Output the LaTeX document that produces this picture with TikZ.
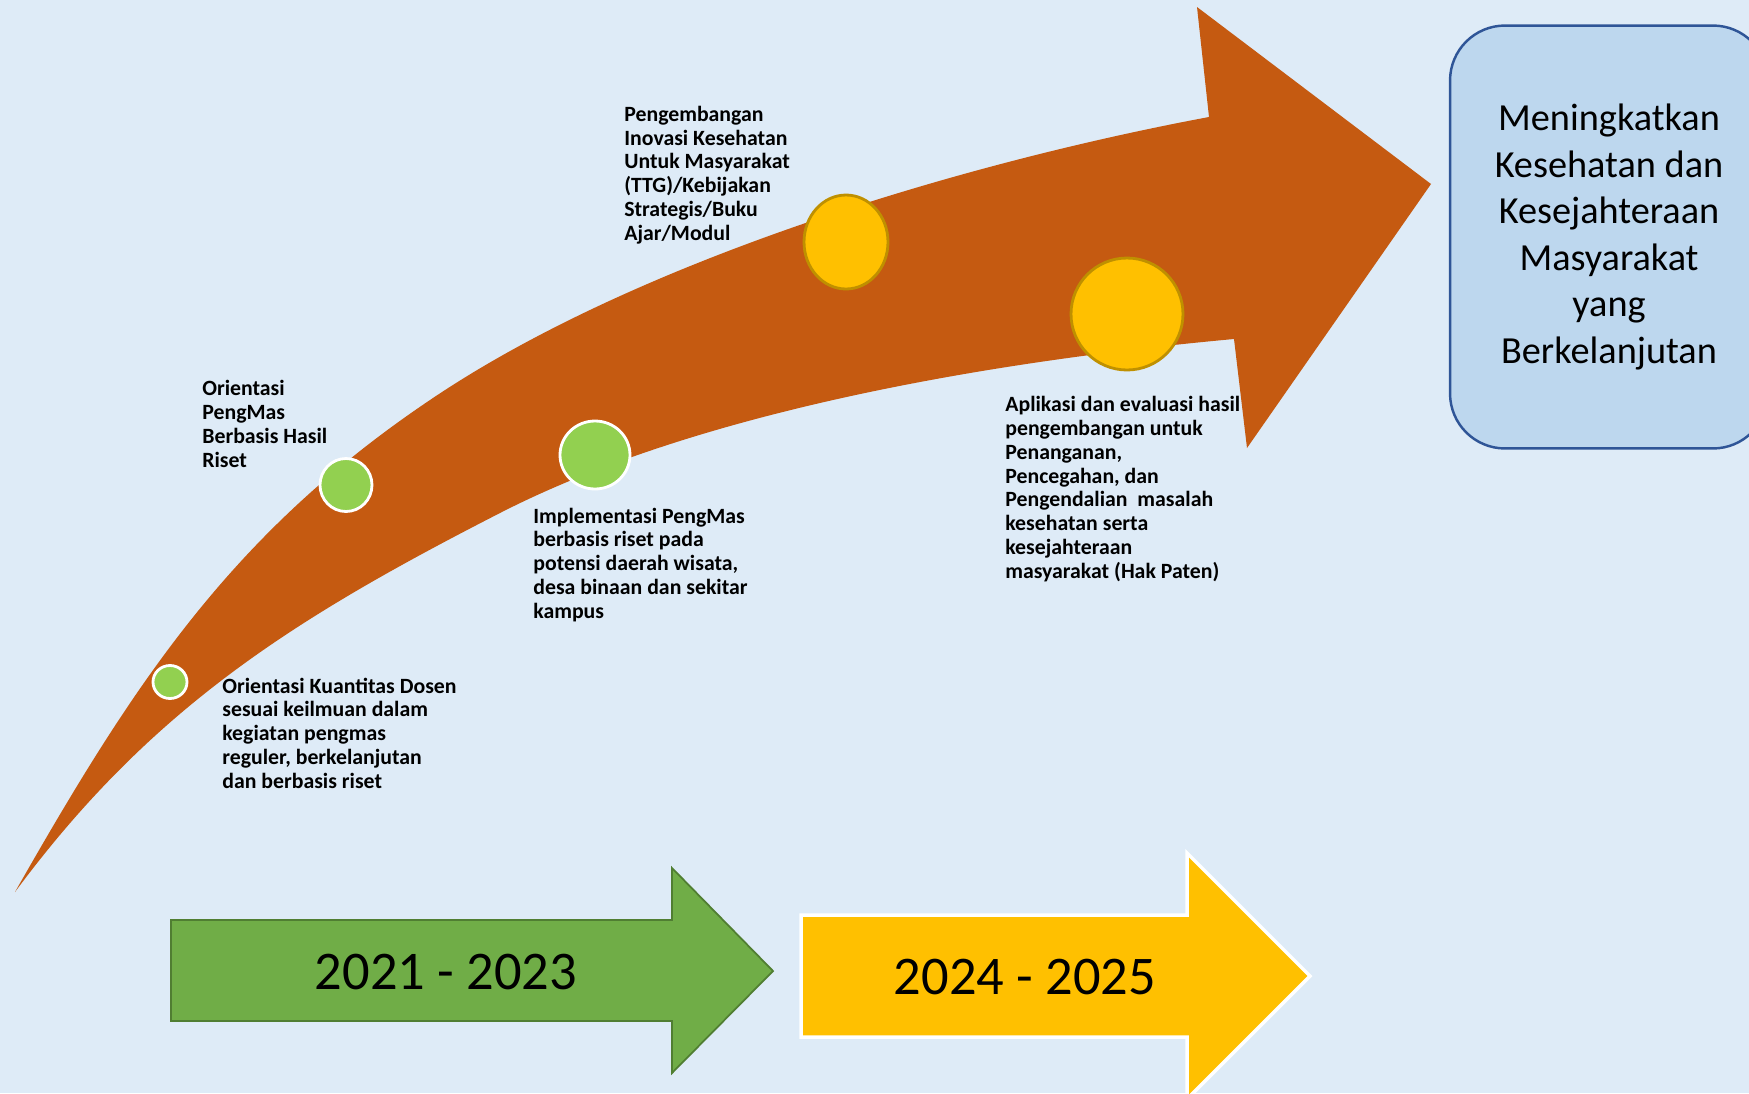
\documentclass[tikz,border=0pt]{standalone}
\usepackage{fontspec}
\setmainfont{Carlito}
\usetikzlibrary{shapes.geometric}

\definecolor{bgblue}{HTML}{DEEBF7}
\definecolor{roadorange}{HTML}{C55A11}
\definecolor{dotgreen}{HTML}{92D050}
\definecolor{dotgold}{HTML}{FFC000}
\definecolor{goldline}{HTML}{BF9000}
\definecolor{arrowgreen}{HTML}{70AD47}
\definecolor{arrowgreenline}{HTML}{507E32}
\definecolor{goalfill}{HTML}{BDD7EE}
\definecolor{goalline}{HTML}{2F5597}

\tikzset{
  greendot/.style={ellipse, fill=dotgreen, draw=white, line width=1.6pt, inner sep=0pt},
  golddot/.style={ellipse, fill=dotgold, draw=goldline, line width=1.6pt, inner sep=0pt},
  milestone/.style={anchor=base west, align=left, inner sep=0pt, font=\bfseries\fontsize{12.4}{13.5}\selectfont},
  yeartext/.style={font=\fontsize{31}{36}\selectfont},
}

\begin{document}
\begin{tikzpicture}[x=0.02cm, y=-0.02cm]
    % Background
    \clip (0,0) rectangle (1749,1093);
    \fill[bgblue] (0,0) rectangle (1749,1093);

    % Curved road arrow
    \fill[roadorange] (15,892) .. controls (134,683) and (231,534) .. (430,400)
        .. controls (637,260) and (963,163) .. (1209,117)
        -- (1197,7) -- (1431,184) -- (1247,448) -- (1234,339)
        .. controls (1005,360) and (705,408) .. (500,513)
        .. controls (295,618) and (152,707) .. (15,892) -- cycle;

    % Milestone dots
    \node[greendot, minimum width=0.68cm, minimum height=0.66cm] (dot1) at (170,682) {};
    \node[greendot, minimum width=1.04cm, minimum height=1.06cm] (dot2) at (346,485) {};
    \node[greendot, minimum width=1.40cm, minimum height=1.36cm] (dot3) at (595,455) {};
    \node[golddot, minimum width=1.68cm, minimum height=1.88cm] (dot4) at (846,242) {};
    \node[golddot, minimum width=2.24cm, minimum height=2.24cm] (dot5) at (1127,314) {};

    % Milestone labels (anchored at the last line)
    \node[milestone] (lbl1) at (222,788) {Orientasi Kuantitas Dosen\\sesuai keilmuan dalam\\kegiatan pengmas\\reguler, berkelanjutan\\dan berbasis riset};
    \node[milestone] (lbl2) at (202,467) {Orientasi\\PengMas\\Berbasis Hasil\\Riset};
    \node[milestone] (lbl3) at (533,618) {Implementasi PengMas\\berbasis riset pada\\potensi daerah wisata,\\desa binaan dan sekitar\\kampus};
    \node[milestone] (lbl4) at (624,240) {Pengembangan\\Inovasi Kesehatan\\Untuk Masyarakat\\(TTG)/Kebijakan\\Strategis/Buku\\Ajar/Modul};
    \node[milestone] (lbl5) at (1005,578) {Aplikasi dan evaluasi hasil\\pengembangan untuk\\Penanganan,\\Pencegahan, dan\\Pengendalian\ \ masalah\\kesehatan serta\\kesejahteraan\\masyarakat (Hak Paten)};

    % Goal box
    \node[draw=goalline, fill=goalfill, line width=1.4pt, rounded corners=1.1cm,
          minimum width=6.36cm, minimum height=8.46cm, align=center,
          font=\fontsize{21.8}{26.5}\selectfont] (goal) at (1609,237)
          {\raisebox{-0.12cm}{\parbox{6cm}{\centering Meningkatkan\\Kesehatan dan\\Kesejahteraan\\Masyarakat\\yang\\Berkelanjutan}}};

    % Period arrows
    \draw[arrowgreenline, fill=arrowgreen, line width=1pt] (171,920) -- (672,920) -- (672,868) -- (773,971) -- (672,1073) -- (672,1021) -- (171,1021) -- cycle;
    \node[yeartext] (period1) at (446,972) {2021 - 2023};
    \draw[white, fill=dotgold, line width=2pt] (801,915) -- (1187,915) -- (1187,853) -- (1310,976) -- (1187,1099) -- (1187,1037) -- (801,1037) -- cycle;
    \node[yeartext] (period2) at (1025,977) {2024 - 2025};
\end{tikzpicture}
\end{document}
